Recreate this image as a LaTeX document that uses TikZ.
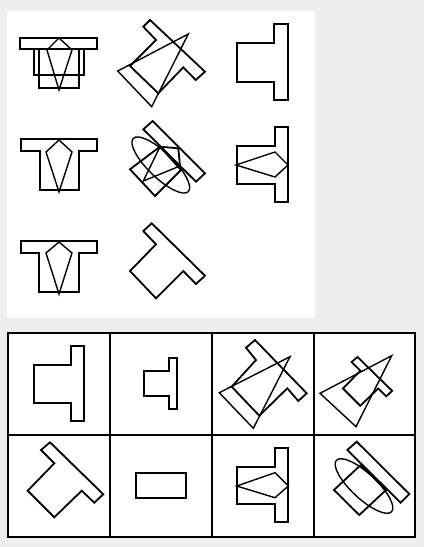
\documentclass[tikz,border=0pt]{standalone}
\usetikzlibrary{calc}
\definecolor{pagegray}{RGB}{238,238,238}
\begin{document}
\begin{tikzpicture}[x=1pt,y=-1pt,
  outline/.style={line width=1.8pt,line join=miter},
  fine/.style={line width=1.4pt},
  gridline/.style={line width=2.4pt}]
\fill[pagegray] (0,0) rectangle (424,547);
\useasboundingbox (0,0) rectangle (424,547);
\fill[white] (7,11) rectangle (315,318);
% row 1
\draw[outline] (20,38) rectangle (97,49);
\draw[outline] (34,49) rectangle (84,75);
\draw[outline] (39,49) rectangle (79,88);
\draw[fine] (59,38) -- (47,50) -- (59,90) -- (72,50) -- cycle;
\draw[outline] (150,20) -- (205,71.7) -- (195.7,80) -- (183.3,67.3) -- (158.3,93.3) -- (130,66) -- (156,40) -- (143.3,26.7) -- cycle;
\draw[fine] (117.7,71) -- (188.3,34) -- (151.7,106.7) -- cycle;
\draw[outline] (274,24) -- (288,24) -- (288,100) -- (274,100) -- (274,82) -- (237,82) -- (237,43) -- (274,43) -- cycle;
% row 2
\draw[outline] (21,139) -- (97,139) -- (97,151) -- (79,151) -- (79,190) -- (40,190) -- (40,151) -- (21,151) -- cycle;
\draw[fine] (59,140) -- (72,152) -- (59,192) -- (46,152) -- cycle;
\draw[outline] (152.7,121) -- (205,173.3) -- (196,181.7) -- (143.3,129.3) -- cycle;
\draw[outline] (130,169.3) -- (155,196) -- (181,170) -- (160,146.7) -- cycle;
\draw[outline] (160,146.7) -- (178.3,148.3) -- (180,166);
\draw[fine] (180,166) -- (143.3,181) -- (160,146.7);
\draw[fine,rotate around={-44:(160.8,165)}] (160.8,165) ellipse [x radius=38.3pt,y radius=12.5pt];
\draw[outline] (275,127) -- (288,127) -- (288,202) -- (275,202) -- (275,184) -- (237,184) -- (237,146) -- (275,146) -- cycle;
\draw[fine] (236,165) -- (275,152) -- (288,165) -- (275,177) -- cycle;
% row 3
\draw[outline] (21,241) -- (97,241) -- (97,253) -- (79,253) -- (79,292) -- (39,292) -- (39,253) -- (21,253) -- cycle;
\draw[fine] (59,242) -- (72,253) -- (59,294) -- (46,253) -- cycle;
\draw[outline] (151.7,223.3) -- (205,275.7) -- (196,284) -- (183.3,271) -- (156,298.3) -- (130,271) -- (156,244.3) -- (143.3,231) -- cycle;
% answer grid
\fill[white] (8,333) rectangle (415,537);
\draw[gridline] (8,333) rectangle (415,537);
\foreach \gx in {110,212,314}
  \draw[gridline] (\gx,333) -- (\gx,537);
\draw[gridline] (8,435) -- (415,435);
% option 1
\draw[outline] (70.7,345.7) -- (84,345.7) -- (84,421) -- (70.7,421) -- (70.7,402.7) -- (33.7,402.7) -- (33.7,365) -- (70.7,365) -- cycle;
% option 2
\draw[outline] (169,358.3) -- (177,358.3) -- (177,409) -- (169,409) -- (169,395.7) -- (143.7,395.7) -- (143.7,370.7) -- (169,370.7) -- cycle;
% option 3
\draw[outline] (255,340) -- (306.7,393.3) -- (298.3,401) -- (287.3,388.3) -- (259.3,415.7) -- (231.7,386.7) -- (256,360) -- (246,347.7) -- cycle;
\draw[fine] (219.3,392.7) -- (290,356.7) -- (253.3,428.3) -- cycle;
% option 4
\draw[outline] (357.5,357) -- (392.1,390.8) -- (386.3,396.3) -- (378.1,388.5) -- (360.3,405.8) -- (343,388.5) -- (360.3,370.7) -- (351.6,362) -- cycle;
\draw[fine] (320,393.3) -- (391.7,355.7) -- (356,426.7) -- cycle;
% option 5
\draw[outline] (50,442.3) -- (103.3,494.3) -- (94.3,502.7) -- (81.7,490.7) -- (54.3,517.3) -- (27.7,490.7) -- (54.3,463.3) -- (41,450) -- cycle;
% option 6
\draw[outline] (135.7,472.7) rectangle (186,498);
% option 7
\draw[outline] (275,447.7) -- (288.3,447.7) -- (288.3,522.3) -- (275,522.3) -- (275,504) -- (237.3,504) -- (237.3,467.3) -- (275,467.3) -- cycle;
\draw[fine] (236.7,486) -- (275,472.7) -- (288.3,486) -- (275,497.7) -- cycle;
% option 8
\draw[outline] (356.7,441.7) -- (409.3,494) -- (400.7,502.7) -- (347.3,450) -- cycle;
\draw[outline] (334,490) -- (359.3,515) -- (386,490) -- (360.7,465) -- cycle;
\draw[fine,rotate around={-43:(364,486)}] (364,486) ellipse [x radius=37.7pt,y radius=12.5pt];
\end{tikzpicture}
\end{document}
